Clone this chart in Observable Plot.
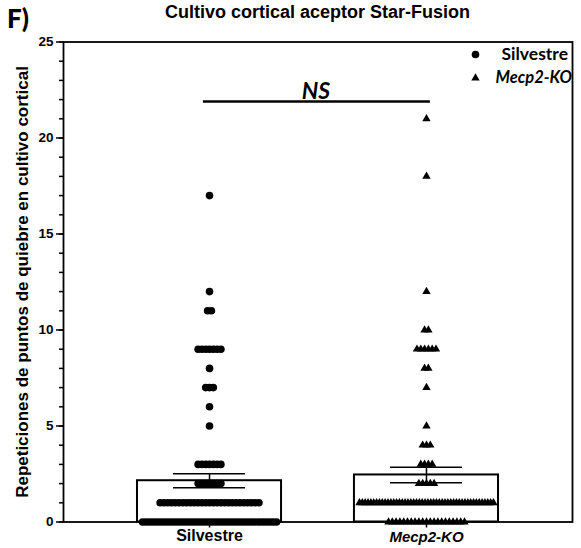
<!DOCTYPE html>
<html>
<head>
<meta charset="utf-8">
<script src="https://cdn.jsdelivr.net/npm/d3@7"></script>
<script src="https://cdn.jsdelivr.net/npm/@observablehq/plot@0.6"></script>
<style>
  html, body { margin: 0; padding: 0; background: #fff; }
  #wrap { position: relative; width: 581px; height: 548px; font-family: "Liberation Sans", Arial, sans-serif; color: #000; }
  #title { position: absolute; left: 0; top: 3px; width: 635px; text-align: center; font-weight: bold; font-size: 18px; line-height: 18px; }
  #panel { position: absolute; left: 7px; top: 5px; font-family: Lato, "Liberation Sans", sans-serif; font-weight: 900; font-size: 26px; line-height: 26px; }
  #chart { position: absolute; left: 0; top: 0; }
</style>
</head>
<body>
<div id="wrap">
  <div id="chart"></div>
  <div id="title">Cultivo cortical aceptor Star-Fusion</div>
  <div id="panel">F)</div>
</div>
<script>
// ---- data ----
const categories = ["Silvestre", "Mecp2-KO"];
const silvestreValues = [0, 1, 2, 3, 5, 6, 7, 8, 9, 11, 12, 17];
const silvestreCounts = [43, 27, 7, 7, 1, 1, 3, 1, 7, 2, 1, 1];
const mecp2Values = [0, 1, 2, 3, 4, 5, 7, 8, 9, 10, 12, 18, 21];
const mecp2Counts = [21, 48, 5, 4, 3, 1, 1, 2, 6, 2, 1, 1, 1];
const means = [2.15, 2.45];
const sems = [0.36, 0.40];
const yTicks = [0, 5, 10, 15, 20, 25];
const yMinorTicks = d3.range(0, 26, 1);
const nsLevel = 21.9;
const nsLabel = "NS";
const yLabel = "Repeticiones de puntos de quiebre en cultivo cortical";

// ---- layout ----
const W = 581, H = 548;
const mL = 63, mR = 9, mT = 41.5, mB = 26.5;
const xDomain = [-0.673, 1.673];
const pxPerUnit = (W - mL - mR) / (xDomain[1] - xDomain[0]);
const barHalf = 0.332;
const capHalf = 0.166;

function swarm(gi, values, counts) {
  const out = [];
  values.forEach((v, k) => {
    const n = counts[k];
    let sp = 3.8;
    const maxSpan = 134;
    if (n > 1 && (n - 1) * sp > maxSpan) sp = maxSpan / (n - 1);
    for (let i = 0; i < n; i++) {
      out.push({ group: categories[gi], x: gi + (i - (n - 1) / 2) * sp / pxPerUnit, y: v });
    }
  });
  return out;
}
const ptsS = swarm(0, silvestreValues, silvestreCounts);
const ptsM = swarm(1, mecp2Values, mecp2Counts);
const bars = categories.map((c, i) => ({ i, name: c, mean: means[i], lo: means[i] - sems[i], hi: means[i] + sems[i] }));

const chart = Plot.plot({
  width: W, height: H,
  marginLeft: mL, marginRight: mR, marginTop: mT, marginBottom: mB,
  x: { domain: xDomain, axis: null },
  y: { domain: [0, 25], axis: null },
  style: { fontFamily: "'Liberation Sans', Arial, sans-serif", fontSize: "12px", background: "white", color: "black" },
  marks: [
    Plot.rect(bars, { x1: d => d.i - barHalf, x2: d => d.i + barHalf, y1: 0, y2: "mean", fill: "white", stroke: "black", strokeWidth: 2 }),
    Plot.ruleX(bars, { x: "i", y1: "lo", y2: "hi", stroke: "black", strokeWidth: 1.5 }),
    Plot.ruleY(bars, { y: "hi", x1: d => d.i - capHalf, x2: d => d.i + capHalf, stroke: "black", strokeWidth: 1.5 }),
    Plot.ruleY(bars, { y: "lo", x1: d => d.i - capHalf, x2: d => d.i + capHalf, stroke: "black", strokeWidth: 1.5 }),
    Plot.dot(ptsS, { x: "x", y: "y", symbol: "circle", r: 3.8, fill: "black", stroke: "none" }),
    Plot.dot(ptsM, { x: "x", y: "y", symbol: "triangle", r: 3.1, fill: "black", stroke: "none" }),
    Plot.frame({ stroke: "black", strokeWidth: 1.8 }),
    Plot.axisY({ ticks: yMinorTicks, tickSize: 4, tickFormat: () => "", label: null, strokeWidth: 1.5 }),
    Plot.axisY({ ticks: yTicks, tickSize: 7, tickPadding: 3, label: null, fontWeight: "bold", fontSize: 13.5, strokeWidth: 1.5 }),
    Plot.axisX({ ticks: [0, 1], tickSize: 6, tickFormat: () => "", label: null, strokeWidth: 1.5 }),
    Plot.text([0], { x: d => d, text: () => categories[0], frameAnchor: "bottom", lineAnchor: "top", dy: 8, fontWeight: "bold", fontSize: 16 }),
    Plot.text([1], { x: d => d, text: () => categories[1], frameAnchor: "bottom", lineAnchor: "top", dy: 9, fontWeight: "bold", fontStyle: "italic", fontSize: 15 }),
    Plot.text([yLabel], { text: d => d, frameAnchor: "left", textAnchor: "middle", lineAnchor: "middle", rotate: -90, dx: -41, fontWeight: "bold", fontSize: 17 }),
    Plot.ruleY([nsLevel], { x1: -0.028, x2: 1.018, stroke: "black", strokeWidth: 2.7 }),
    Plot.text([nsLabel], { x: 0.49, y: nsLevel, text: d => d, lineAnchor: "bottom", dy: -3, fontFamily: "Lato, 'Liberation Sans', sans-serif", fontWeight: "bold", fontStyle: "italic", fontSize: 23 }),
    Plot.dot([categories[0]], { frameAnchor: "top-right", dx: -97, dy: 12.5, symbol: "circle", r: 3.8, fill: "black", stroke: "none" }),
    Plot.dot([categories[1]], { frameAnchor: "top-right", dx: -97, dy: 36, symbol: "triangle", r: 3.1, fill: "black", stroke: "none" }),
    Plot.text([categories[0]], { text: d => d, frameAnchor: "top-right", dx: -71, dy: 12, textAnchor: "start", lineAnchor: "middle", fontFamily: "Lato, 'Liberation Sans', sans-serif", fontWeight: "bold", fontSize: 17.5 }),
    Plot.text([categories[1]], { text: d => d, frameAnchor: "top-right", dx: -77, dy: 35.5, textAnchor: "start", lineAnchor: "middle", fontFamily: "Lato, 'Liberation Sans', sans-serif", fontWeight: "bold", fontStyle: "italic", fontSize: 16.5 })
  ]
});
document.getElementById("chart").appendChild(chart);
</script>
</body>
</html>
